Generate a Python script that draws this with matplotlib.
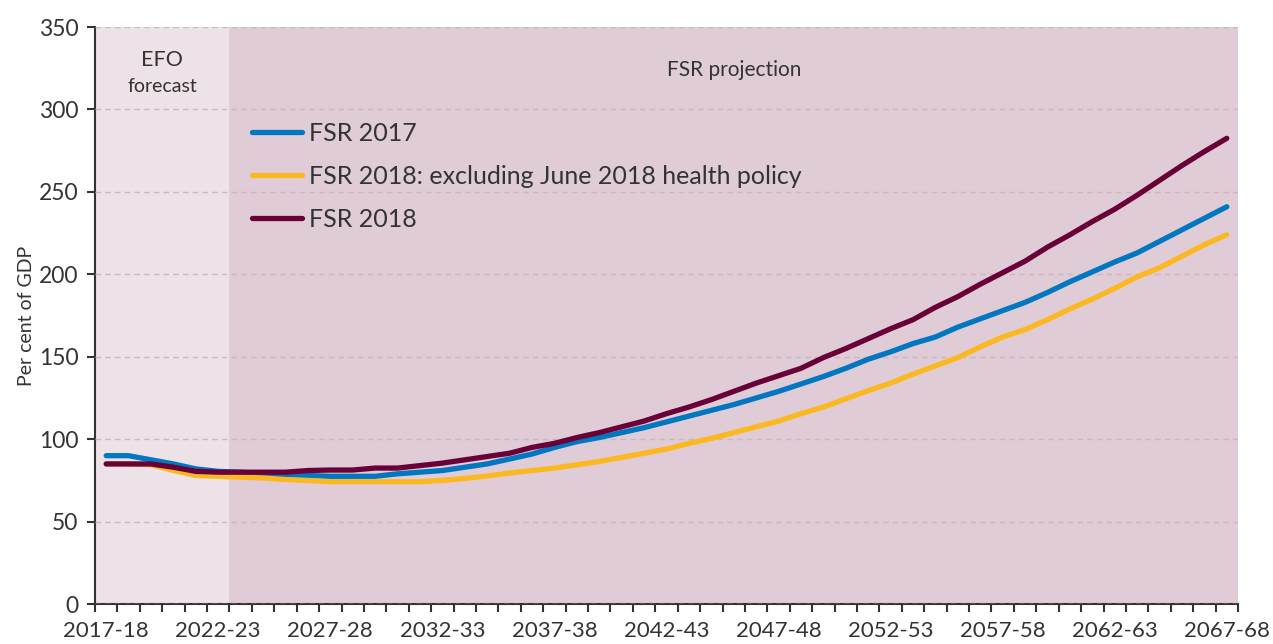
import matplotlib
matplotlib.use("Agg")
import matplotlib.pyplot as plt

# financial years 2017-18 .. 2067-68
years = [f"{y}-{str(y + 1)[2:]}" for y in range(2017, 2068)]

fsr_2017 = [90, 90, 87.5, 85, 82, 80.5, 80, 79, 78.5, 78, 77.5, 77.5, 77.5, 79, 80,
            81, 83, 85, 88, 91, 95, 98.5, 101, 104, 107, 110.5, 114, 117.5, 121, 125,
            129, 133.5, 138, 143, 148.5, 153, 158, 162, 168, 173, 178, 183, 189, 195.5,
            201.5, 207.5, 213, 220, 227, 234, 241]
fsr_2018_excl = [85, 85, 84.5, 81, 78, 77.5, 77, 76.5, 75.5, 75, 74.2, 74.2, 74.2, 74.2,
                 74.2, 75, 76.2, 77.7, 79.5, 81, 82.5, 84.5, 86.5, 89, 91.5, 94, 97.5,
                 100.5, 104, 107.5, 111, 115.5, 119.5, 124.5, 129.5, 134, 139.5, 144.5,
                 149.5, 156, 162, 166.5, 172.5, 179, 185, 191.5, 198.5, 204, 211, 218, 224]
fsr_2018 = [85, 85, 85, 83, 80.5, 80, 80, 80, 80, 81, 81.3, 81.3, 82.5, 82.5, 84, 85.5,
            87.5, 89.5, 91.5, 95, 97.5, 101, 104, 107.5, 111, 115.5, 119.5, 124, 129, 134,
            138.5, 143, 149.5, 155, 161, 167, 172.5, 180, 186.5, 194, 201, 208, 216.5, 224,
            232, 239.5, 248, 257, 266, 274.5, 282.5]

series = [("FSR 2017", fsr_2017, "#0077c0"),
          ("FSR 2018: excluding June 2018 health policy", fsr_2018_excl, "#fbb820"),
          ("FSR 2018", fsr_2018, "#6a0038")]

efo_end = "2022-23"

plt.rcParams['font.family'] = ['Lato', 'DejaVu Sans']

fig = plt.figure(figsize=(12.73, 6.44), dpi=100)
ax = fig.add_axes([0.0746, 0.062, 0.8979, 0.896])

x = list(range(len(years)))
split = years.index(efo_end) + 0.5
ax.axvspan(-0.5, split, color="#ede2e7", lw=0, zorder=0.5)
ax.axvspan(split, len(years) - 0.5, color="#e0ccd6", lw=0, zorder=0.5)

for label, vals, col in series:
    ax.plot(x, vals, color=col, lw=3.8, label=label, solid_capstyle="round", zorder=3)

ax.set_xlim(-0.5, len(years) - 0.5)
ax.set_ylim(0, 350)
ax.set_yticks(range(0, 351, 50))
ax.grid(axis="y", color="#cdb6c1", linestyle=(0, (4, 3)), lw=1.0)
ax.set_axisbelow(False)
for gl in ax.get_ygridlines():
    gl.set_zorder(1)

# ticks at year boundaries, labels every fifth year
ax.set_xticks([i - 0.5 for i in range(len(years) + 1)])
ax.set_xticklabels([])
ax.set_xticks(x[::5], minor=True)
ax.set_xticklabels(years[::5], minor=True)
ax.tick_params(axis="x", which="major", length=6, width=1.5, color="#333333")
ax.tick_params(axis="x", which="minor", length=0, labelsize=16, pad=12, labelcolor="#333333")
ax.tick_params(axis="y", length=6, width=1.5, color="#333333", labelsize=16.5,
               labelcolor="#333333", pad=6)

for s in ["top", "right"]:
    ax.spines[s].set_visible(False)
for s in ["left", "bottom"]:
    ax.spines[s].set_color("#333333")
    ax.spines[s].set_linewidth(1.5)

ax.set_ylabel("Per cent of GDP", fontsize=14, color="#333333", labelpad=3)

ax.text(split / 2 - 0.25, 330, "EFO", ha="center", va="center", fontsize=15.5, color="#333333")
ax.text(split / 2 - 0.25, 314, "forecast", ha="center", va="center", fontsize=14, color="#333333")
ax.text((split + len(years) - 0.5) / 2, 324, "FSR projection", ha="center", va="center",
        fontsize=15, color="#333333")

ax.legend(loc="upper left", bbox_to_anchor=(0.118, 0.875), frameon=False, fontsize=18,
          handlelength=2.0, handletextpad=0.25, labelspacing=0.8, labelcolor="#333333")

fig.savefig("out.png", dpi=100)
